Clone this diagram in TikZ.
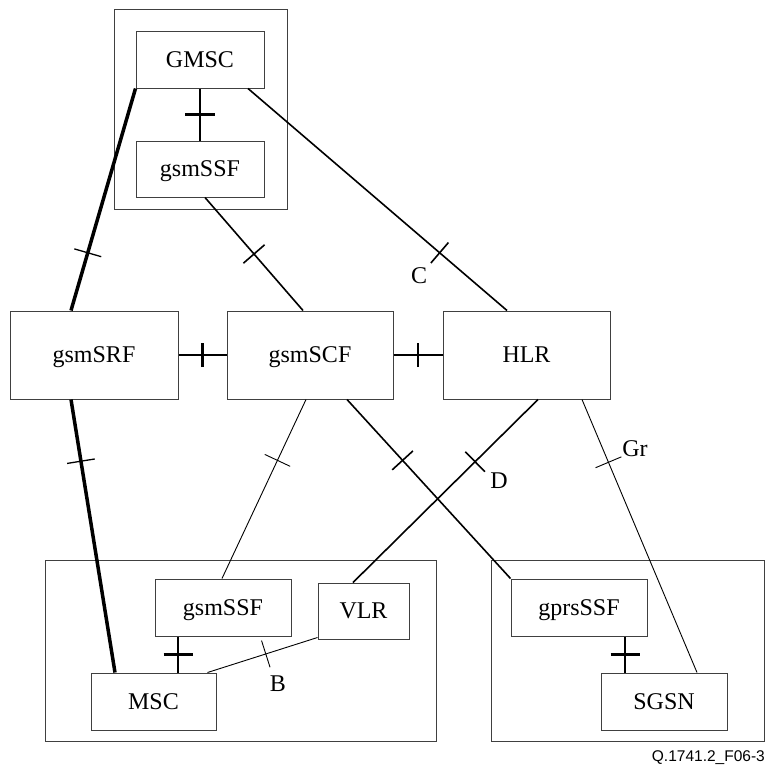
\documentclass[tikz,border=0pt]{standalone}
\usepackage{fontspec}
\setmainfont{Liberation Serif}
\newfontfamily\figfont{Liberation Sans}
\usetikzlibrary{decorations.markings}
\tikzstyle{entity}=[rectangle,draw=black!75,line width=1pt,inner sep=0pt,text height=15.8pt,text depth=0pt,font=\fontsize{24}{28}\selectfont]
\tikzstyle{group}=[rectangle,draw=black!75,line width=1pt,inner sep=0pt]
\tikzstyle{link} = [draw,line width=2.1pt]
\tikzstyle{medium link} = [draw,line width=1.6pt]
\tikzstyle{thin link} = [draw,line width=0.9pt]
\tikzstyle{thick link} = [draw,line width=3.5pt]
\tikzstyle{ref} = [inner sep=0pt,font=\fontsize{24}{28}\selectfont]
\tikzset{tickmark/.style n args={3}{postaction={decorate,decoration={markings,
    mark=at position #1 with {\draw[line width=#3] (0pt,-#2pt) -- (0pt,#2pt);}}}}}

\begin{document}
\begin{tikzpicture}[x=1pt,y=-1pt]
    \useasboundingbox (0,0) rectangle (768,764);
    	% draw the surrounding boxes
	    \foreach \pos/\name/\wid/\hei in {{(200.5,109)/gmscgrp/173/200},
	                                  {(240.5,650.5)/mscgrp/391/181}, {(627.5,650.5)/sgsngrp/273/181}}
        \node[group,minimum width=\wid,minimum height=\hei] (\name) at \pos {};
    	% draw the entities
	    \foreach \pos/\name/\wid/\hei/\txt in {{(200,59.5)/gmsc/128/57/GMSC}, {(200,169)/ssfa/128/56/gsmSSF},
	                                       {(94,355)/srf/168/88/gsmSRF}, {(310,355)/scf/166/88/gsmSCF},
	                                       {(526.5,355)/hlr/167/88/HLR},
	                                       {(223,607.5)/ssfb/136/57/gsmSSF}, {(363.5,611)/vlr/91/56/VLR},
	                                       {(153.5,701.5)/msc/125/57/MSC},
	                                       {(579,607.5)/gprs/136/57/gprsSSF}, {(664,701.5)/sgsn/126/57/SGSN}}
        \node[entity,minimum width=\wid,minimum height=\hei] (\name) at \pos {\txt};
    	% links between neighbouring entities
    	\foreach \source/\dest/\half in {gmsc.south/ssfa.north/15, srf.east/scf.west/12, scf.east/hlr.west/12}
        	\path[link,tickmark={0.5}{\half}{2.1pt}] (\source) -- (\dest);
        \path[link,tickmark={0.5}{14.5}{2.1pt}] ([xshift=-45pt]ssfb.south) -- ([xshift=24.5pt]msc.north);
        \path[link,tickmark={0.5}{14.5}{2.1pt}] ([xshift=46pt]gprs.south) -- ([xshift=-39pt]sgsn.north);

        	%GMSC/gsmSRF/MSC
        	\path[thick link,tickmark={0.74}{14}{1.3pt}] (gmsc.south west) -- ([xshift=-23pt]srf.north);
        	\path[thick link,tickmark={0.226}{14}{1.3pt}] ([xshift=-23pt]srf.south) -- ([xshift=-38.5pt]msc.north);
        	%C
        	\path[medium link,tickmark={0.74}{13.5}{1.6pt}] ([xshift=48pt]gmsc.south) -- ([xshift=-19.5pt]hlr.north);
        	\path[medium link,tickmark={0.5}{14}{1.6pt}] ([xshift=5pt]ssfa.south) -- ([xshift=-7pt]scf.north);
        	\path[thin link,tickmark={0.34}{14}{0.9pt}] ([xshift=-4pt]scf.south) -- ([xshift=-1pt]ssfb.north);
        	\path[medium link,tickmark={0.34}{14}{1.6pt}] ([xshift=37pt]scf.south) -- (gprs.north west);
        	%D
        	\path[medium link,tickmark={0.34}{14}{1.6pt}] ([xshift=11.5pt]hlr.south) -- ([xshift=-10.5pt]vlr.north);
        	%Gr
        	\path[thin link,tickmark={0.23}{14}{0.9pt}] ([xshift=55.5pt]hlr.south) -- ([xshift=33pt]sgsn.north);
        	%B
        	\path[thin link,tickmark={0.53}{14}{0.9pt}] ([xshift=-9pt]msc.north east) -- ([yshift=2pt]vlr.south west);

        \node[ref] (lblc) at (419,276) {C};
        \node[ref] (lbld) at (499,481) {D};
        \node[ref] (lblgr) at (635,448.5) {Gr};
        \node[ref] (lblb) at (278,684) {B};
        \node[anchor=base east,inner sep=0pt,font=\figfont\fontsize{15.5}{18}\selectfont] (figid) at (765,761) {Q.1741.2\_F06-3};
	\end{tikzpicture}
\end{document}
